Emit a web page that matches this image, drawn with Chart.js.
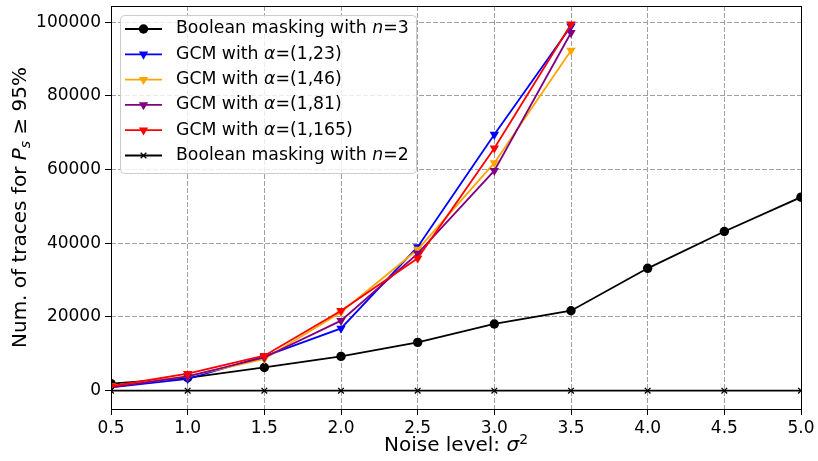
<!DOCTYPE html>
<html>
<head>
<meta charset="utf-8">
<script src="https://cdn.jsdelivr.net/npm/chart.js@4"></script>
<style>
  html, body { margin: 0; padding: 0; background: #fff; }
  #wrap { width: 818px; height: 461px; position: relative; }
</style>
</head>
<body>
<div id="wrap"><canvas id="chart"></canvas></div>
<script>
// data
const noiseLevels = [0.5, 1.0, 1.5, 2.0, 2.5, 3.0, 3.5, 4.0, 4.5, 5.0];
const gcmLevels = [0.5, 1.0, 1.5, 2.0, 2.5, 3.0, 3.5];

const boolN3 = [1900, 3500, 6300, 9300, 13100, 18100, 21700, 33200, 43200, 52500];
const gcm23 = [900, 3200, 9300, 16900, 39000, 69500, 98900];
const gcm46 = [1300, 3900, 8600, 21300, 38300, 61800, 92300];
const gcm81 = [900, 3900, 9000, 19000, 37200, 59700, 97100];
const gcm165 = [1200, 4600, 9500, 21700, 35900, 65800, 99400];
const boolN2 = [0, 0, 0, 0, 0, 0, 0, 0, 0, 0];

const xTicks = [0.5, 1.0, 1.5, 2.0, 2.5, 3.0, 3.5, 4.0, 4.5, 5.0];
const yTicks = [0, 20000, 40000, 60000, 80000, 100000];

const FONT = "'DejaVu Sans', sans-serif";
const FS = 17;        // tick labels
const LEGEND_FS = 17.3;
const TITLE_FS = 20;  // axis titles

function pts(xs, ys) {
  return xs.map((x, i) => ({ x: x, y: ys[i] }));
}

function series(label, xs, ys, color, style, radius, rot) {
  return {
    label: label,
    data: pts(xs, ys),
    borderColor: color,
    backgroundColor: color,
    borderWidth: 1.8,
    pointStyle: style,
    pointRadius: radius,
    pointHoverRadius: radius,
    pointRotation: rot,
    pointBorderWidth: style === 'crossRot' ? 1.3 : 0,
    tension: 0,
    clip: 0
  };
}

const datasets = [
  series('Boolean masking with n=3', noiseLevels, boolN3, '#000000', 'circle', 4.7, 0),
  series('GCM with α=(1,23)', gcmLevels, gcm23, '#0000ff', 'triangle', 5.4, 180),
  series('GCM with α=(1,46)', gcmLevels, gcm46, '#ffa500', 'triangle', 5.4, 180),
  series('GCM with α=(1,81)', gcmLevels, gcm81, '#800080', 'triangle', 5.4, 180),
  series('GCM with α=(1,165)', gcmLevels, gcm165, '#ff0000', 'triangle', 5.4, 180),
  series('Boolean masking with n=2', noiseLevels, boolN2, '#000000', 'crossRot', 4, 0)
];
// matplotlib draws later series on top
datasets.forEach((d, i) => d.order = datasets.length - i);

// draw a run of [text, italic, shift, scale] pieces starting at x
function drawParts(ctx, parts, x, y, size) {
  parts.forEach(p => {
    const s = size * (p[3] || 1);
    ctx.font = (p[1] ? 'oblique ' : '') + s + 'px ' + FONT;
    ctx.fillText(p[0], x, y + (p[2] || 0) * size);
    x += ctx.measureText(p[0]).width;
  });
  return x;
}
function partsWidth(ctx, parts, size) {
  let w = 0;
  parts.forEach(p => {
    ctx.font = (p[1] ? 'oblique ' : '') + size * (p[3] || 1) + 'px ' + FONT;
    w += ctx.measureText(p[0]).width;
  });
  return w;
}

const frame = {
  id: 'frame',
  afterDatasetsDraw(chart) {
    const ctx = chart.ctx, a = chart.chartArea;
    ctx.save();
    ctx.strokeStyle = '#000';
    ctx.lineWidth = 1;
    ctx.strokeRect(Math.round(a.left) + 0.5, Math.round(a.top) + 0.5,
      Math.round(a.right - a.left), Math.round(a.bottom - a.top));
    ctx.restore();
  },
  afterDraw(chart) {
    const ctx = chart.ctx, a = chart.chartArea;
    ctx.save();
    ctx.fillStyle = '#000';
    ctx.textBaseline = 'middle';
    ctx.textAlign = 'left';

    // axis titles
    const xt = [['Noise level: '], ['σ', true], ['2', false, -0.3, 0.7]];
    drawParts(ctx, xt, (a.left + a.right) / 2 - partsWidth(ctx, xt, TITLE_FS) / 2, 446, TITLE_FS);

    const yt = [['Num. of traces for '], ['P', true], ['s', true, 0.25, 0.7], [' ≥ 95%']];
    ctx.translate(21, (a.top + a.bottom) / 2);
    ctx.rotate(-Math.PI / 2);
    drawParts(ctx, yt, -partsWidth(ctx, yt, TITLE_FS) / 2, 0, TITLE_FS);
    ctx.restore();

    // legend, inside the plot at top left
    ctx.save();
    ctx.textBaseline = 'middle';
    ctx.textAlign = 'left';
    const x0 = a.left + 9, y0 = a.top + 9, w = 296, h = 158, rowH = 25.3;
    ctx.beginPath();
    ctx.roundRect(x0 + 0.5, y0 + 0.5, w, h, 4);
    ctx.fillStyle = 'rgba(255,255,255,0.8)';
    ctx.fill();
    ctx.strokeStyle = '#cccccc';
    ctx.lineWidth = 1;
    ctx.stroke();

    chart.data.datasets.forEach((ds, i) => {
      const cy = y0 + 14 + i * rowH;
      ctx.strokeStyle = ds.borderColor;
      ctx.fillStyle = ds.backgroundColor;
      ctx.lineWidth = ds.borderWidth;
      ctx.beginPath();
      ctx.moveTo(x0 + 5, cy);
      ctx.lineTo(x0 + 42, cy);
      ctx.stroke();
      ctx.lineWidth = ds.pointBorderWidth;
      Chart.helpers.drawPoint(ctx, {
        pointStyle: ds.pointStyle,
        radius: ds.pointRadius,
        rotation: ds.pointRotation,
        borderWidth: ds.pointBorderWidth
      }, x0 + 23.5, cy);

      const m = ds.label.match(/^(.* with )(\S)(.*)$/);
      ctx.fillStyle = '#000';
      drawParts(ctx, [[m[1]], [m[2], true], [m[3]]], x0 + 56, cy, LEGEND_FS);
    });
    ctx.restore();
  }
};

Chart.defaults.font.family = FONT;
Chart.defaults.font.size = FS;
Chart.defaults.color = '#000';

new Chart(document.getElementById('chart'), {
  type: 'line',
  data: { datasets: datasets },
  options: {
    responsive: true,
    maintainAspectRatio: false,
    animation: false,
    events: [],
    layout: { padding: { top: 6, right: 17, left: 0, bottom: 0 } },
    plugins: {
      legend: { display: false },
      tooltip: { enabled: false }
    },
    scales: {
      x: {
        type: 'linear',
        min: 0.5,
        max: 5.0,
        afterBuildTicks: s => { s.ticks = xTicks.map(v => ({ value: v })); },
        afterFit: s => { s.height = 52; s.paddingLeft = 0; s.paddingRight = 0; },
        ticks: {
          padding: 3,
          maxRotation: 0,
          autoSkip: false,
          callback: v => v.toFixed(1)
        },
        grid: {
          color: '#a0a0a0',
          lineWidth: 1,
          tickLength: 6,
          tickColor: '#000',
          tickBorderDash: []
        },
        border: { display: false, dash: [5, 2] }
      },
      y: {
        type: 'linear',
        min: -4970,
        max: 104370,
        afterBuildTicks: s => { s.ticks = yTicks.map(v => ({ value: v })); },
        afterFit: s => { s.width = 111; s.paddingTop = 0; s.paddingBottom = 0; },
        ticks: {
          padding: 4,
          autoSkip: false,
          callback: v => String(v)
        },
        grid: {
          color: '#a0a0a0',
          lineWidth: 1,
          tickLength: 6,
          tickColor: '#000',
          tickBorderDash: []
        },
        border: { display: false, dash: [5, 2] }
      }
    }
  },
  plugins: [frame]
});
</script>
</body>
</html>
